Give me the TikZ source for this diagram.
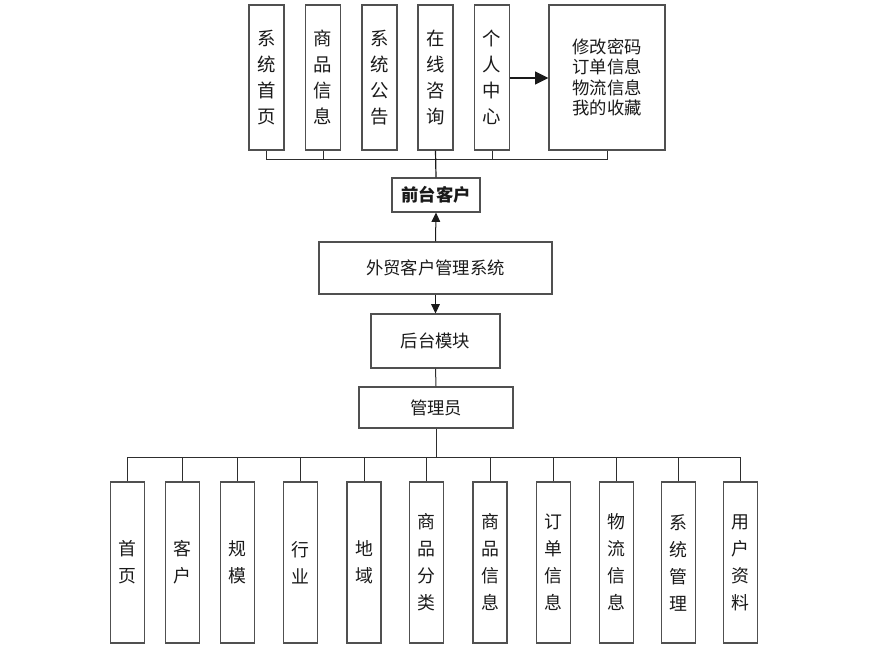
\documentclass[tikz,border=0pt]{standalone}
\usepackage{fontspec}
\setmainfont{Noto Sans CJK SC}
\usepackage{tikz}
\usetikzlibrary{arrows.meta,positioning,calc}
\definecolor{ink}{HTML}{1A1A1A}
\definecolor{boxline}{HTML}{505050}
\definecolor{wire}{HTML}{2E2E2E}

\begin{document}
\begin{tikzpicture}[
  x=0.75pt,y=-0.75pt,
  every node/.style={font=\fontsize{13}{15.4}\selectfont,text=ink},
  topcol/.style={draw=boxline,line width=0.8pt,fill=white,minimum width=26.25pt,minimum height=108.75pt,inner sep=0pt,align=center,font=\fontsize{13.8}{19.5}\selectfont},
  subcol/.style={draw=boxline,line width=0.8pt,fill=white,minimum width=25.5pt,minimum height=120.75pt,inner sep=0pt,align=center,font=\fontsize{13.4}{20.25}\selectfont},
  block/.style={draw=boxline,line width=0.8pt,fill=white,inner sep=0pt,align=center},
  line/.style={line width=0.75pt,color=wire},
  feed/.style={line width=0.75pt,color=ink,-{Triangle[length=7pt,width=6.5pt]}}
]
\useasboundingbox (0,0) rectangle (880,653);

% front end
\node[topcol] (home)   at (266.5,77.5) {系\\统\\首\\页};
\node[topcol] (goods)  at (323,77.5)   {商\\品\\信\\息};
\node[topcol] (notice) at (379.5,77.5) {系\\统\\公\\告};
\node[topcol] (chat)   at (435.5,77.5) {在\\线\\咨\\询};
\node[topcol] (me)     at (492,77.5)   {个\\人\\中\\心};
\node[block,minimum width=87pt,minimum height=108.75pt] (mine) at (607,77.5)
  {修改密码\\订单信息\\物流信息\\我的收藏};
\node[block,minimum width=66pt,minimum height=25.5pt,font=\fontsize{13}{15.4}\selectfont\bfseries] (front) at (436,195) {前台客户};
\coordinate (topbus) at (436,159);
\draw[line] (home.south) -- (home.south |- topbus) -- (mine.south |- topbus) -- (mine.south);
\draw[line] (goods.south) -- (goods.south |- topbus);
\draw[line] (me.south) -- (me.south |- topbus);
\draw[line,color=ink,line width=0.9pt] (chat.south) -- (front.north);
\draw[line width=1.6pt,color=ink,-{Triangle[length=10pt,width=9.5pt]}] (me.east |- 0,78) -- (mine.west |- 0,78);

% system and back end
\node[block,minimum width=174.75pt,minimum height=39pt] (sys) at (435.5,268) {外贸客户管理系统};
\node[block,minimum width=96.75pt,minimum height=40.5pt] (back) at (435.5,341) {后台模块};
\node[block,minimum width=115.5pt,minimum height=30.75pt] (admin) at (436,407.5) {管理员};
\draw[feed] (sys.north) -- (front.south);
\draw[feed] (sys.south) -- (back.north);
\draw[line] (back.south) -- (admin.north);

% admin modules
\node[subcol] (m1)  at (127.5,562.5) {首\\页};
\node[subcol] (m2)  at (182.5,562.5) {客\\户};
\node[subcol] (m3)  at (237.5,562.5) {规\\模};
\node[subcol] (m4)  at (300.5,562.5) {行\\业};
\node[subcol] (m5)  at (364,562.5)   {地\\域};
\node[subcol] (m6)  at (426.5,562.5) {商\\品\\分\\类};
\node[subcol] (m7)  at (490,562.5)   {商\\品\\信\\息};
\node[subcol] (m8)  at (553.5,562.5) {订\\单\\信\\息};
\node[subcol] (m9)  at (616.5,562.5) {物\\流\\信\\息};
\node[subcol] (m10) at (678.5,562.5) {系\\统\\管\\理};
\node[subcol] (m11) at (740.5,562.5) {用\\户\\资\\料};
\coordinate (lowbus) at (436,457);
\draw[line] (admin.south) -- (lowbus);
\draw[line] (m1.north) -- (m1.north |- lowbus) -- (m11.north |- lowbus) -- (m11.north);
\foreach \m in {m2,m3,m4,m5,m6,m7,m8,m9,m10}
  \draw[line] (\m.north) -- (\m.north |- lowbus);
\end{tikzpicture}
\end{document}
